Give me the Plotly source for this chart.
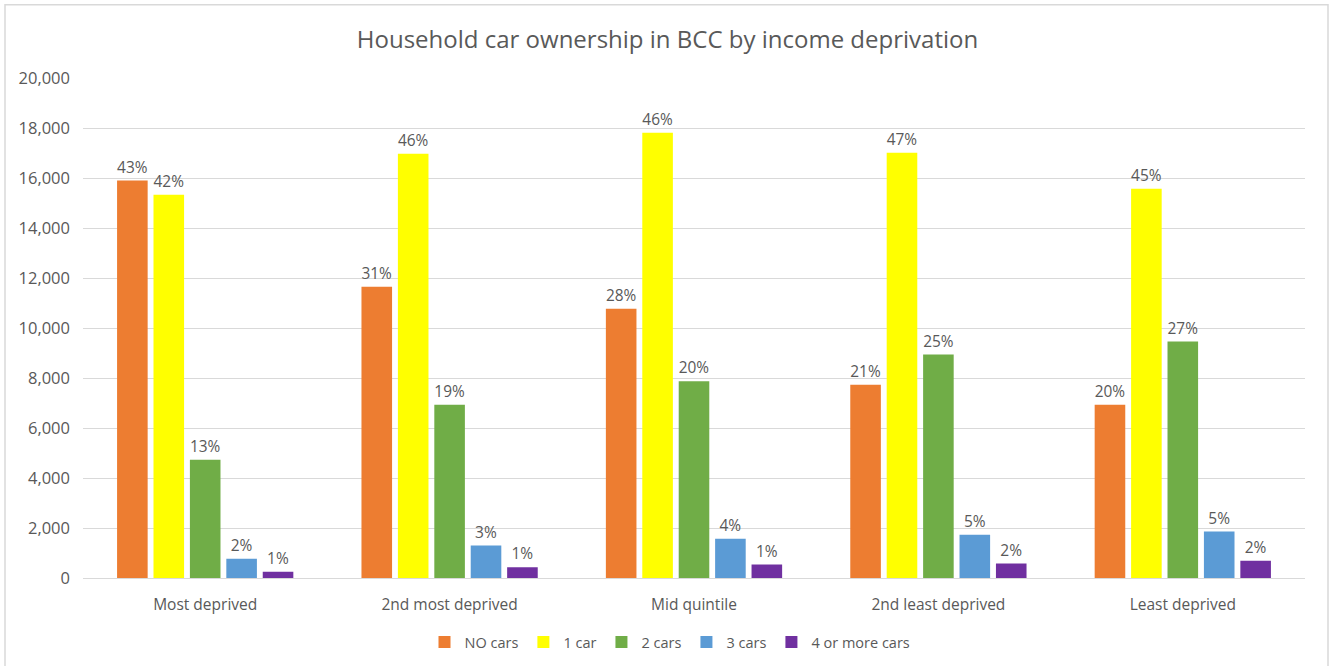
import plotly.graph_objects as go

# Income deprivation quintiles (x axis)
categories = ["Most deprived", "2nd most deprived", "Mid quintile",
              "2nd least deprived", "Least deprived"]

# Households per car-ownership band in each quintile
no_cars = [15900, 11650, 10770, 7730, 6930]
one_car = [15330, 16970, 17810, 17010, 15570]
two_cars = [4730, 6930, 7870, 8940, 9460]
three_cars = [770, 1300, 1570, 1730, 1860]
four_plus = [250, 430, 540, 580, 690]

# Share of households within each quintile, shown above the bars
pct_no_cars = ["43%", "31%", "28%", "21%", "20%"]
pct_one_car = ["42%", "46%", "46%", "47%", "45%"]
pct_two_cars = ["13%", "19%", "20%", "25%", "27%"]
pct_three_cars = ["2%", "3%", "4%", "5%", "5%"]
pct_four_plus = ["1%", "1%", "1%", "2%", "2%"]

series_names = ["NO cars", "1 car", "2 cars", "3 cars", "4 or more cars"]
series_values = [no_cars, one_car, two_cars, three_cars, four_plus]
series_labels = [pct_no_cars, pct_one_car, pct_two_cars, pct_three_cars, pct_four_plus]
series_colors = ["#ED7D31", "#FFFF00", "#70AD47", "#5B9BD5", "#7030A0"]

y_ticks = [0, 2000, 4000, 6000, 8000, 10000, 12000, 14000, 16000, 18000, 20000]

FONT = "'Open Sans', Lato, sans-serif"
GREY_TEXT = "#595959"

fig = go.Figure()
for name, vals, labels, color in zip(series_names, series_values, series_labels, series_colors):
    fig.add_trace(go.Bar(
        name=name,
        x=categories,
        y=vals,
        text=labels,
        textposition="outside",
        textfont=dict(family=FONT, size=15.5, color=GREY_TEXT),
        marker=dict(color=color, line=dict(width=0)),
        cliponaxis=False,
    ))

fig.update_layout(
    width=1335,
    height=666,
    margin=dict(l=83, r=30, t=78, b=88, autoexpand=False),
    paper_bgcolor="white",
    plot_bgcolor="white",
    barmode="group",
    bargap=0.255,
    bargroupgap=0.16,
    font=dict(family=FONT, color=GREY_TEXT),
    title=dict(
        text="Household car ownership in BCC by income deprivation",
        x=0.5, xanchor="center",
        y=1 - 40 / 666, yanchor="middle",
        font=dict(family=FONT, size=24, color=GREY_TEXT),
    ),
    legend=dict(
        orientation="h",
        xref="container", yref="container",
        x=670 / 1335, xanchor="center",
        y=1 - 642 / 666, yanchor="middle",
        font=dict(family=FONT, size=14.5, color=GREY_TEXT),
        traceorder="normal",
        itemwidth=30,
    ),
    showlegend=True,
)

fig.update_xaxes(
    showgrid=False,
    showline=True,
    linecolor="#D9D9D9",
    linewidth=1,
    ticks="",
    tickfont=dict(family=FONT, size=15.5, color=GREY_TEXT),
    ticklabelstandoff=12,
    automargin=False,
)

fig.update_yaxes(
    range=[0, 20000],
    tickvals=y_ticks,
    tickformat=",",
    showgrid=True,
    gridcolor="#D9D9D9",
    gridwidth=1,
    zeroline=False,
    showline=False,
    ticks="",
    tickfont=dict(family=FONT, size=16.5, color=GREY_TEXT),
    ticklabelstandoff=12,
    automargin=False,
)

# Light frame around the whole chart area
fig.add_shape(
    type="rect",
    xref="paper", yref="paper",
    x0=(5 - 83) / 1222, x1=(1328 - 83) / 1222,
    y0=(578.5 - 670) / 500.2, y1=(578.5 - 5) / 500.2,
    line=dict(color="#D9D9D9", width=1.5),
    fillcolor="rgba(0,0,0,0)",
    layer="below",
)

fig.write_html("out.html")
